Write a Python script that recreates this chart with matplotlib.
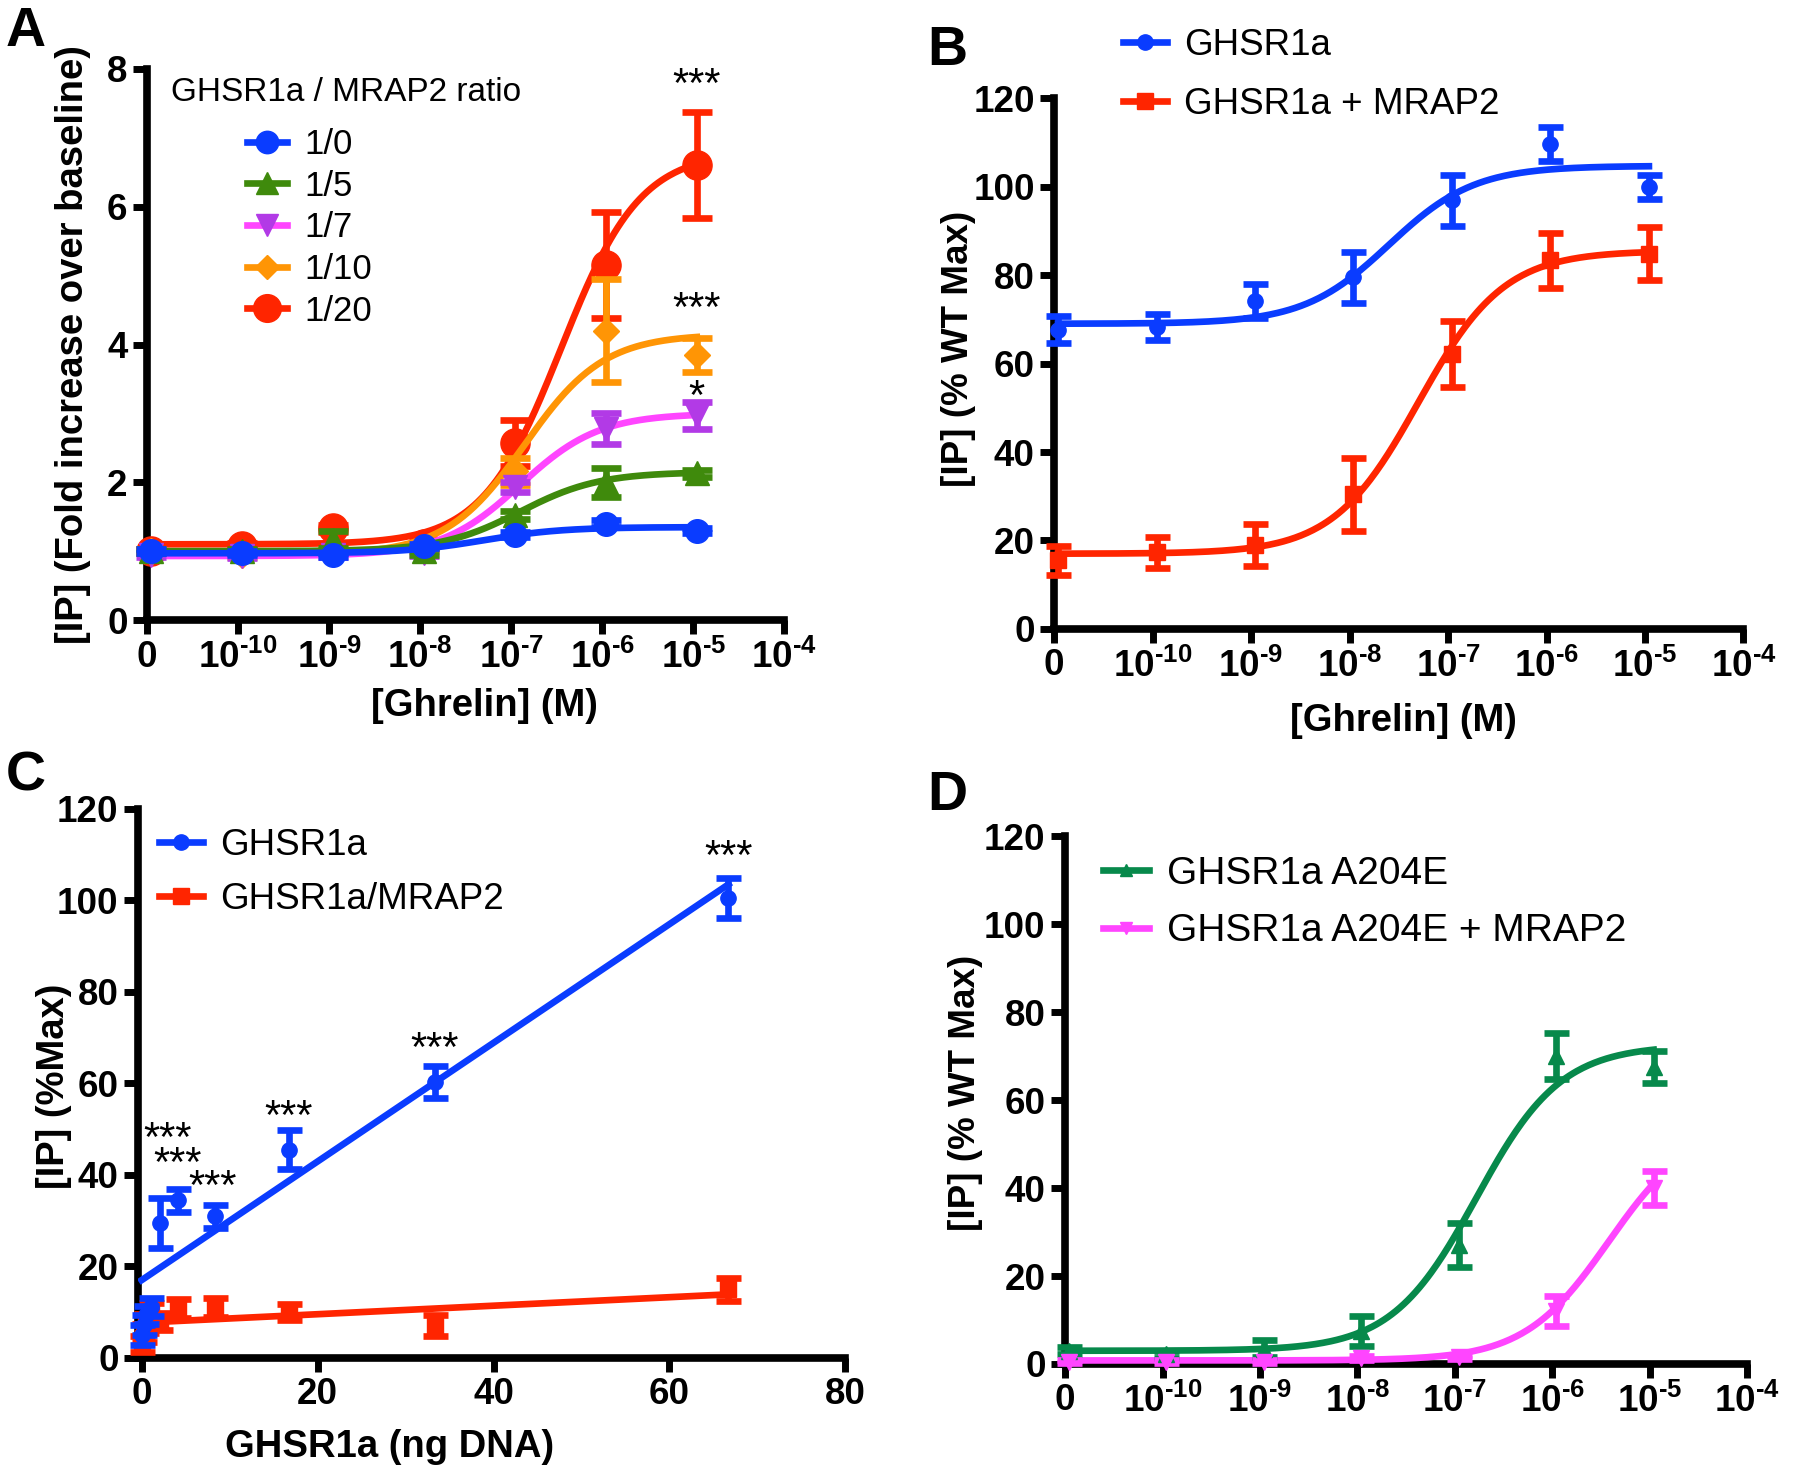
import numpy as np
import matplotlib
matplotlib.use('Agg')
import matplotlib.pyplot as plt
from matplotlib.lines import Line2D

plt.rcParams['font.family'] = ['Liberation Sans', 'DejaVu Sans']
plt.rcParams['mathtext.fontset'] = 'custom'
plt.rcParams['mathtext.bf'] = 'Liberation Sans:bold'
plt.rcParams['mathtext.rm'] = 'Liberation Sans'

# ---------------- data ----------------
# ghrelin concentrations as log10 positions ("0" drawn at -11)
log_conc = np.array([-11, -10, -9, -8, -7, -6, -5]) + 0.04
log_ticks = [-11, -10, -9, -8, -7, -6, -5, -4]
HY = '\u2010'
log_ticklabels = ['0'] + [r'$\mathbf{10^{' + HY + str(k) + '}}$' for k in [10, 9, 8, 7, 6, 5, 4]]

# Panel A
a_labels = ['1/0', '1/5', '1/7', '1/10', '1/20']
a_y = {
    '1/0':  [1.00, 0.98, 0.95, 1.07, 1.24, 1.40, 1.30],
    '1/5':  [1.00, 1.00, 1.17, 1.00, 1.53, 2.00, 2.13],
    '1/7':  [0.95, 0.93, 0.95, 0.98, 1.93, 2.78, 2.97],
    '1/10': [1.00, 0.95, 1.00, 1.05, 2.16, 4.20, 3.85],
    '1/20': [1.00, 1.08, 1.33, 1.10, 2.57, 5.15, 6.60],
}
a_err = {
    '1/0':  [0.03, 0.03, 0.03, 0.03, 0.04, 0.05, 0.04],
    '1/5':  [0.03, 0.03, 0.12, 0.05, 0.06, 0.21, 0.05],
    '1/7':  [0.03, 0.03, 0.03, 0.05, 0.07, 0.22, 0.20],
    '1/10': [0.03, 0.03, 0.03, 0.05, 0.20, 0.75, 0.25],
    '1/20': [0.03, 0.04, 0.05, 0.05, 0.33, 0.77, 0.77],
}
# fitted curve parameters: bottom, top, logEC50
a_fit = {
    '1/0':  [0.97, 1.35, -7.3],
    '1/5':  [1.00, 2.15, -6.9],
    '1/7':  [0.93, 3.00, -6.9],
    '1/10': [0.95, 4.15, -6.85],
    '1/20': [1.10, 6.80, -6.45],
}
a_marker = {'1/0': 'o', '1/5': '^', '1/7': 'v', '1/10': 'D', '1/20': 'o'}
a_msize = {'1/0': 17, '1/5': 17, '1/7': 17, '1/10': 13, '1/20': 21}
a_line_col = {'1/0': '#0a3cff', '1/5': '#3f8a0c', '1/7': '#ff45ff', '1/10': '#ff9505', '1/20': '#ff2500'}
a_mark_col = {'1/0': '#0a3cff', '1/5': '#3f8a0c', '1/7': '#b23ae6', '1/10': '#ff9505', '1/20': '#ff2500'}

# Panel B
b_labels = ['GHSR1a', 'GHSR1a + MRAP2']
b_y = {'GHSR1a': [67.7, 68.3, 74.1, 79.5, 96.9, 109.7, 99.9],
       'GHSR1a + MRAP2': [15.5, 17.3, 19.0, 30.4, 62.1, 83.4, 84.8]}
b_err = {'GHSR1a': [3.0, 3.0, 3.8, 5.7, 5.8, 3.8, 2.7],
         'GHSR1a + MRAP2': [3.3, 3.5, 4.7, 8.2, 7.5, 6.2, 6.0]}
b_fit = {'GHSR1a': [69.0, 104.7, -7.6], 'GHSR1a + MRAP2': [17.0, 85.5, -7.3]}

# Panel C
c_dna = np.array([0, 0.26, 0.52, 1.04, 2.08, 4.17, 8.33, 16.7, 33.3, 66.7])
c_y = {'GHSR1a': [5.0, 7.2, 9.4, 11.1, 29.5, 34.5, 31.0, 45.5, 60.3, 100.5],
       'GHSR1a/MRAP2': [3.0, 5.5, 7.5, 9.5, 8.0, 10.8, 11.0, 10.0, 7.0, 15.0]}
c_err = {'GHSR1a': [2.2, 2.2, 2.0, 2.0, 5.5, 2.5, 2.5, 4.3, 3.5, 4.3],
         'GHSR1a/MRAP2': [1.8, 2.0, 2.0, 2.5, 1.8, 2.0, 2.0, 1.8, 2.3, 2.5]}
c_fit = {'GHSR1a': [17.0, 1.297], 'GHSR1a/MRAP2': [7.7, 0.093]}  # intercept, slope
c_stars_x = [3.0, 4.1, 8.1, 16.7, 33.3, 66.7]
c_stars_y = [47.7, 42.2, 37.1, 52.5, 67.4, 109.2]

# Panel D
d_labels = ['GHSR1a A204E', 'GHSR1a A204E + MRAP2']
d_y = {'GHSR1a A204E': [3.0, 2.2, 3.5, 7.5, 27.0, 70.0, 67.5],
       'GHSR1a A204E + MRAP2': [0.5, 0.5, 0.5, 1.4, 1.6, 12.1, 40.0]}
d_err = {'GHSR1a A204E': [0.8, 0.8, 2.0, 3.5, 5.0, 5.2, 3.7],
         'GHSR1a A204E + MRAP2': [0.3, 0.3, 0.3, 0.5, 0.5, 3.4, 3.8]}
d_fit = {'GHSR1a A204E': [3.0, 72.5, -6.78], 'GHSR1a A204E + MRAP2': [0.8, 55.0, -5.42]}


def sigmoid(x, bottom, top, logec50):
    return bottom + (top - bottom) / (1 + 10 ** (logec50 - x))


LW = 4.8
SPW = 5.5
TICKFS = 26.5
LABFS = 27.5

fig = plt.figure(figsize=(18, 14.66), dpi=100)


def make_ax(rect):
    ax = fig.add_axes(rect)
    for s in ['top', 'right']:
        ax.spines[s].set_visible(False)
    for s in ['left', 'bottom']:
        ax.spines[s].set_linewidth(SPW)
    ax.tick_params(width=5, length=10, direction='out', labelsize=TICKFS, pad=4)
    return ax


def finish_ticks(ax):
    for lab in ax.get_xticklabels() + ax.get_yticklabels():
        lab.set_fontweight('bold')


def log_axis(ax):
    ax.set_xlim(-11, -4)
    ax.set_xticks(log_ticks)
    ax.set_xticklabels(log_ticklabels)


# ---------------- Panel A ----------------
axA = make_ax([0.0817, 0.577, 0.354, 0.376])
log_axis(axA)
axA.set_ylim(0, 8)
axA.set_yticks([0, 2, 4, 6, 8])
xc = np.linspace(-11, -4.96, 300)
handlesA = []
for i, lab in enumerate(reversed(a_labels)):
    z = 3 + i
    axA.plot(xc, sigmoid(xc, *a_fit[lab]), color=a_line_col[lab], lw=LW, zorder=z)
    axA.errorbar(log_conc, a_y[lab], yerr=a_err[lab], fmt=a_marker[lab], ms=a_msize[lab],
                 color=a_mark_col[lab], mec=a_mark_col[lab], ecolor=a_mark_col[lab],
                 elinewidth=LW, capsize=11, capthick=LW, zorder=z, clip_on=False)
for lab in a_labels:
    handlesA.append(Line2D([], [], color=a_line_col[lab], lw=LW, marker=a_marker[lab],
                           ms=a_msize[lab] * 0.95, mfc=a_mark_col[lab], mec=a_mark_col[lab]))
axA.legend(handlesA, a_labels, loc='upper left', bbox_to_anchor=(0.157, 0.893),
           frameon=False, fontsize=25, handlelength=1.15, handletextpad=0.5,
           labelspacing=0.25, borderpad=0, borderaxespad=0)
axA.text(0.038, 0.958, 'GHSR1a / MRAP2 ratio', transform=axA.transAxes, fontsize=24,
         ha='left', va='center')
axA.text(-4.96, 7.75, '***', fontsize=30, ha='center', va='center')
axA.text(-4.96, 4.5, '***', fontsize=30, ha='center', va='center')
axA.text(-4.96, 3.22, '*', fontsize=30, ha='center', va='center')
axA.set_xlabel('[Ghrelin] (M)', fontsize=LABFS, fontweight='bold')
axA.xaxis.set_label_coords(0.53, -0.123)
axA.set_ylabel('[IP] (Fold increase over baseline)', fontsize=LABFS, fontweight='bold')
axA.yaxis.set_label_coords(-0.088, 0.5)
finish_ticks(axA)

# ---------------- Panel B ----------------
axB = make_ax([0.5856, 0.571, 0.383, 0.362])
log_axis(axB)
axB.set_ylim(0, 120)
axB.set_yticks(range(0, 121, 20))
xcB = np.linspace(-10.96, -4.96, 300)
b_col = {'GHSR1a': '#0a3cff', 'GHSR1a + MRAP2': '#ff2500'}
b_mk = {'GHSR1a': 'o', 'GHSR1a + MRAP2': 's'}
handlesB = []
for lab in b_labels:
    axB.plot(xcB, sigmoid(xcB, *b_fit[lab]), color=b_col[lab], lw=LW, zorder=3)
    axB.errorbar(log_conc, b_y[lab], yerr=b_err[lab], fmt=b_mk[lab], ms=11, color=b_col[lab],
                 elinewidth=LW, capsize=9, capthick=LW, zorder=4, clip_on=False)
    handlesB.append(Line2D([], [], color=b_col[lab], lw=LW, marker=b_mk[lab], ms=11))
axB.legend(handlesB, b_labels, loc='upper left', bbox_to_anchor=(0.624, 0.981),
           bbox_transform=fig.transFigure, frameon=False, fontsize=26.5, handlelength=1.2,
           handletextpad=0.45, labelspacing=0.65, borderpad=0, borderaxespad=0)
axB.set_xlabel('[Ghrelin] (M)', fontsize=LABFS, fontweight='bold')
axB.xaxis.set_label_coords(0.507, -0.139)
axB.set_ylabel('[IP] (% WT Max)', fontsize=26.5, fontweight='bold')
axB.yaxis.set_label_coords(-0.113, 0.527)
finish_ticks(axB)

# ---------------- Panel C ----------------
axC = make_ax([0.0767, 0.0737, 0.393, 0.3745])
axC.set_xlim(-0.4, 80)
axC.set_ylim(0, 120)
axC.set_xticks([0, 20, 40, 60, 80])
axC.set_yticks(range(0, 121, 20))
c_labels = ['GHSR1a', 'GHSR1a/MRAP2']
c_col = {'GHSR1a': '#0a3cff', 'GHSR1a/MRAP2': '#ff2500'}
c_mk = {'GHSR1a': 'o', 'GHSR1a/MRAP2': 's'}
xl = np.linspace(0, 66.7, 50)
handlesC = []
for lab, z in zip(reversed(c_labels), [3, 5]):
    b0, m = c_fit[lab]
    axC.plot(xl, b0 + m * xl, color=c_col[lab], lw=LW, zorder=z)
    axC.errorbar(c_dna, c_y[lab], yerr=c_err[lab], fmt=c_mk[lab], ms=11, color=c_col[lab],
                 elinewidth=LW, capsize=9, capthick=LW, zorder=z + 1, clip_on=False)
for lab in c_labels:
    handlesC.append(Line2D([], [], color=c_col[lab], lw=LW, marker=c_mk[lab], ms=11))
axC.legend(handlesC, c_labels, loc='upper left', bbox_to_anchor=(0.03, 0.965),
           frameon=False, fontsize=26.5, handlelength=1.2, handletextpad=0.45,
           labelspacing=0.5, borderpad=0, borderaxespad=0)
for sx, sy in zip(c_stars_x, c_stars_y):
    axC.text(sx, sy, '***', fontsize=30, ha='center', va='center')
axC.set_xlabel('GHSR1a (ng DNA)', fontsize=LABFS, fontweight='bold')
axC.xaxis.set_label_coords(0.356, -0.13)
axC.set_ylabel('[IP] (%Max)', fontsize=LABFS, fontweight='bold')
axC.yaxis.set_label_coords(-0.094, 0.494)
finish_ticks(axC)

# ---------------- Panel D ----------------
axD = make_ax([0.5917, 0.0696, 0.379, 0.360])
log_axis(axD)
axD.set_ylim(0, 120)
axD.set_yticks(range(0, 121, 20))
d_col = {'GHSR1a A204E': '#07894b', 'GHSR1a A204E + MRAP2': '#ff45ff'}
d_mk = {'GHSR1a A204E': '^', 'GHSR1a A204E + MRAP2': 'v'}
xcD = np.linspace(-11, -4.96, 300)
handlesD = []
for lab in d_labels:
    axD.plot(xcD, sigmoid(xcD, *d_fit[lab]), color=d_col[lab], lw=LW, zorder=3)
    axD.errorbar(log_conc, d_y[lab], yerr=d_err[lab], fmt=d_mk[lab], ms=11, color=d_col[lab],
                 elinewidth=LW, capsize=9, capthick=LW, zorder=4, clip_on=False)
    handlesD.append(Line2D([], [], color=d_col[lab], lw=LW, marker=d_mk[lab], ms=9))
axD.legend(handlesD, d_labels, loc='upper left', bbox_to_anchor=(0.055, 0.963),
           frameon=False, fontsize=28, handlelength=1.2, handletextpad=0.45,
           labelspacing=0.55, borderpad=0, borderaxespad=0)
axD.set_ylabel('[IP] (% WT Max)', fontsize=26.5, fontweight='bold')
axD.yaxis.set_label_coords(-0.12, 0.513)
finish_ticks(axD)

# panel letters
for letter, x, y in [('A', 0.003, 0.996), ('B', 0.515, 0.983), ('C', 0.003, 0.488), ('D', 0.515, 0.475)]:
    fig.text(x, y, letter, fontsize=40, fontweight='bold', ha='left', va='top')

fig.savefig('out.png', dpi=100)
